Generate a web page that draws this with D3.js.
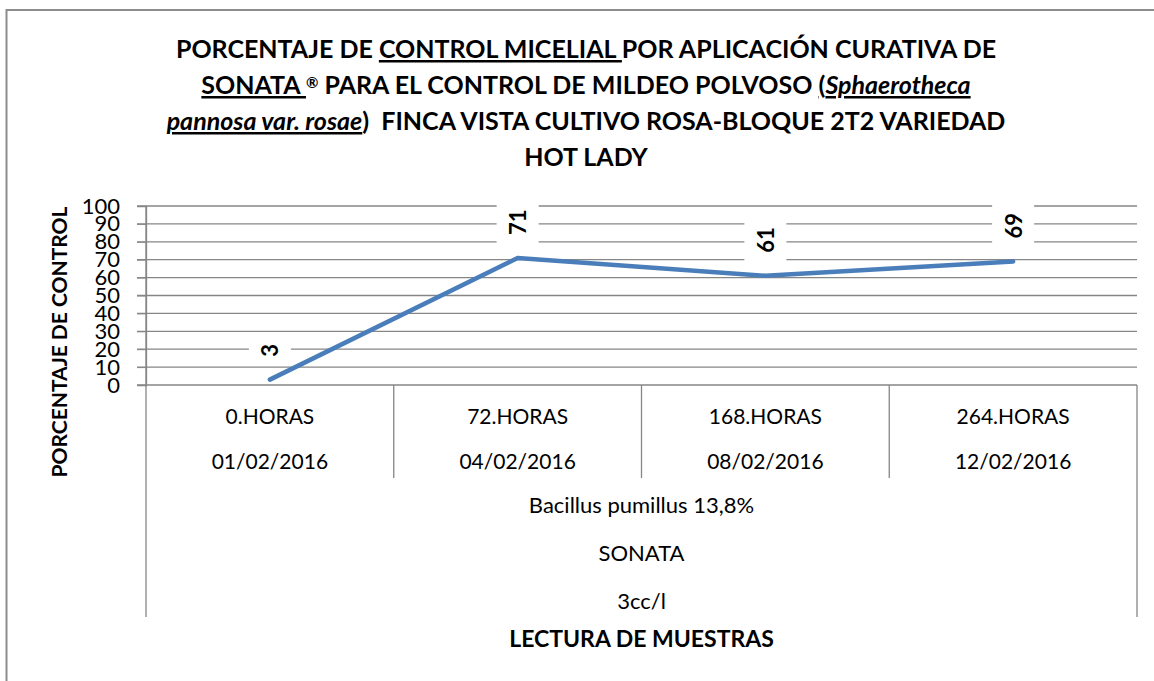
<!DOCTYPE html>
<html>
<head>
<meta charset="utf-8">
<script src="https://cdn.jsdelivr.net/npm/d3@7"></script>
<style>
	body { margin: 0; background: #ffffff; }
	svg text { font-family: Lato, "Open Sans", sans-serif; fill: #000000; white-space: pre; }
</style>
</head>
<body>
<div id="chart"></div>
<script>
var categories = [ "0.HORAS", "72.HORAS", "168.HORAS", "264.HORAS" ];
var dates = [ "01/02/2016", "04/02/2016", "08/02/2016", "12/02/2016" ];
var groupLabels = [ "Bacillus pumillus 13,8%", "SONATA", "3cc/l" ];
var controlValues = [ 3, 71, 61, 69 ];
var yTicks = [ 0, 10, 20, 30, 40, 50, 60, 70, 80, 90, 100 ];

var titleLines = [
	[ { t : "PORCENTAJE DE " }, { t : "CONTROL MICELIAL ", u : true },
			{ t : "POR APLICACIÓN CURATIVA DE" } ],
	[ { t : "SONATA ", u : true }, { t : "®", sup : true },
			{ t : " PARA EL CONTROL DE MILDEO POLVOSO " },
			{ t : "(", u : true }, { t : "Sphaerotheca", u : true, i : true } ],
	[ { t : "pannosa var. rosae", u : true, i : true },
			{ t : ")  FINCA VISTA CULTIVO ROSA-BLOQUE 2T2 VARIEDAD" } ],
	[ { t : "HOT LADY" } ] ];

var plotLeft = 146, plotRight = 1137, plotTop = 206, plotBottom = 385, boxBottom = 617;

function createSvg(div) {
	var svg = d3.select("#" + div).append("svg").attr("width", 1154)
			.attr("height", 681);
	svg.append("rect").attr("x", 6.5).attr("y", 10).attr("width", 1160)
			.attr("height", 700).attr("fill", "#ffffff").attr("stroke",
					"#8c8c8c").attr("stroke-width", 2);
	return svg;
}

function drawTitle(svg) {
	var i = 0;
	for (i; i < titleLines.length; i++) {
		var text = svg.append("text").attr("x", 586).attr("y", 58 + i * 36)
				.attr("text-anchor", "middle").attr("font-size", 25).attr(
						"font-weight", "bold");
		titleLines[i].forEach(function(seg) {
			var span = text.append("tspan").text(seg.t);
			if (seg.u) {
				span.attr("text-decoration", "underline");
			}
			if (seg.i) {
				span.attr("font-style", "italic");
			}
			if (seg.sup) {
				span.attr("font-size", 15).attr("baseline-shift", "40%");
			}
		});
	}
}

function drawAxes(svg, x, y) {
	// gridlines
	svg.append("g").selectAll("line").data(yTicks).join("line").attr("x1",
			137).attr("x2", plotRight).attr("y1", function(d) {
		return y(d);
	}).attr("y2", function(d) {
		return y(d);
	}).attr("stroke", "#868686").attr("stroke-width", 1.3);

	var axis = svg.append("g").attr("transform", "translate(" + plotLeft + ",0)")
			.call(d3.axisLeft(y).tickValues(yTicks).tickSize(9).tickPadding(
					17));
	axis.select(".domain").attr("stroke", "#868686").attr("stroke-width", 1.3);
	axis.selectAll(".tick line").attr("stroke", "#868686");
	axis.selectAll(".tick text").attr("font-size", 22).attr("font-family",
			"Lato").attr("fill", "#000000");

	// category box
	svg.append("line").attr("x1", plotLeft).attr("x2", plotLeft).attr("y1",
			plotTop).attr("y2", boxBottom).attr("stroke", "#868686").attr(
			"stroke-width", 1.3);
	svg.append("line").attr("x1", plotRight).attr("x2", plotRight).attr("y1",
			plotBottom).attr("y2", boxBottom).attr("stroke", "#868686").attr(
			"stroke-width", 1.3);
	svg.append("g").selectAll("line").data(categories.slice(1)).join("line")
			.attr("x1", function(d) {
				return x(d);
			}).attr("x2", function(d) {
				return x(d);
			}).attr("y1", plotBottom).attr("y2", 478).attr("stroke",
					"#868686").attr("stroke-width", 1.3);

	svg.append("g").selectAll("text").data(categories).join("text").attr("x",
			function(d) {
				return x(d) + x.bandwidth() / 2;
			}).attr("y", 424).attr("text-anchor", "middle").attr("font-size",
			21).text(function(d) {
		return d;
	});
	svg.append("g").selectAll("text").data(dates).join("text").attr("x",
			function(d, i) {
				return x(categories[i]) + x.bandwidth() / 2;
			}).attr("y", 469).attr("text-anchor", "middle").attr("font-size",
			21).text(function(d) {
		return d;
	});
	svg.append("g").selectAll("text").data(groupLabels).join("text").attr(
			"x", (plotLeft + plotRight) / 2).attr("y", function(d, i) {
		return 513 + i * 48;
	}).attr("text-anchor", "middle").attr("font-size", 22).text(function(d) {
		return d;
	});

	svg.append("text").attr("x", (plotLeft + plotRight) / 2).attr("y", 647)
			.attr("text-anchor", "middle").attr("font-size", 23).attr(
					"font-weight", "bold").text("LECTURA DE MUESTRAS");
	svg.append("text").attr("transform", "translate(67,342) rotate(-90)")
			.attr("text-anchor", "middle").attr("font-size", 21).attr(
					"font-weight", "bold").text("PORCENTAJE DE CONTROL");
}

function drawSeries(svg, x, y) {
	var line = d3.line().x(function(d, i) {
		return x(categories[i]) + x.bandwidth() / 2;
	}).y(function(d) {
		return y(d);
	});
	svg.append("path").attr("d", line(controlValues)).attr("fill", "none")
			.attr("stroke", "#4a7ebb").attr("stroke-width", 4.5).attr(
					"stroke-linecap", "round").attr("stroke-linejoin", "round");

	var i = 0;
	for (i; i < controlValues.length; i++) {
		var cx = x(categories[i]) + x.bandwidth() / 2;
		var cy = y(controlValues[i]) - 23;
		var g = svg.append("g");
		var rect = g.append("rect").attr("fill", "#ffffff");
		var label = g.append("text").attr("transform",
				"translate(" + cx + "," + cy + ") rotate(-90)").attr(
				"dominant-baseline", "central").attr("font-size", 22).attr(
				"font-weight", "bold").text(controlValues[i]);
		var len = label.node().getComputedTextLength();
		rect.attr("x", cx - 21).attr("y", cy - len - 9).attr("width", 42)
				.attr("height", len + 18);
	}
}

var svg = createSvg("chart");
var x = d3.scaleBand().domain(categories).range([ plotLeft, plotRight ]);
var y = d3.scaleLinear().domain([ 0, 100 ]).range([ plotBottom, plotTop ]);
drawTitle(svg);
drawAxes(svg, x, y);
drawSeries(svg, x, y);
</script>
</body>
</html>
